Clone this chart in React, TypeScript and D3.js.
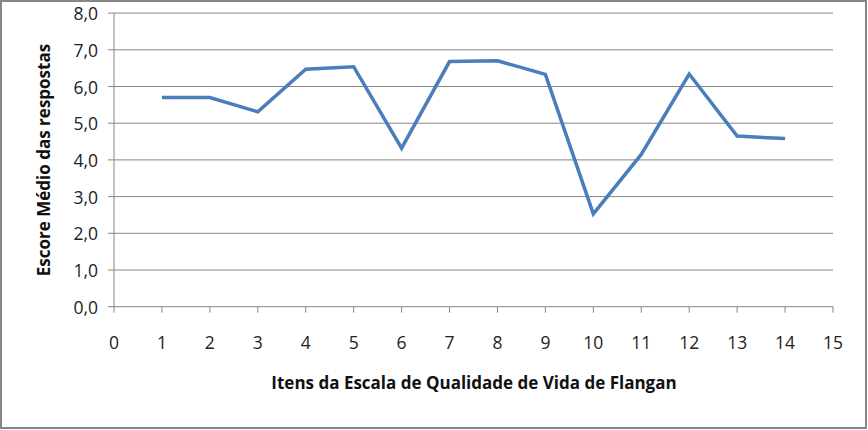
import React from "react";
import * as d3 from "d3";

const items = [1, 2, 3, 4, 5, 6, 7, 8, 9, 10, 11, 12, 13, 14];
const scores = [5.7, 5.7, 5.31, 6.47, 6.54, 4.32, 6.68, 6.7, 6.33, 2.53, 4.15, 6.34, 4.65, 4.58];
const xTicks = [0, 1, 2, 3, 4, 5, 6, 7, 8, 9, 10, 11, 12, 13, 14, 15];
const yTicks = [0, 1, 2, 3, 4, 5, 6, 7, 8];
const xTitle = "Itens da Escala de Qualidade de Vida de Flangan";
const yTitle = "Escore Médio das respostas";

const W = 868;
const H = 430;
const FONT = "Open Sans, Noto Sans, sans-serif";

export default function App() {
  const x = d3.scaleLinear().domain([0, 15]).range([114, 833]);
  const y = d3.scaleLinear().domain([0, 8]).range([306.7, 13.1]);
  const line = d3
    .line<number>()
    .x((_, i) => x(items[i]))
    .y((d) => y(d));
  const fmt = (v: number) => v.toFixed(1).replace(".", ",");
  const grid = "#868686";
  return (
    <svg
      width={W}
      height={H}
      style={{ position: "absolute", left: 0, top: 0, background: "#fff" }}
    >
      <rect x={1} y={1} width={W - 3} height={H - 3} fill="#fff" stroke="#868686" strokeWidth={2} />
      {yTicks.map((t) => (
        <g key={"y" + t}>
          <line x1={108} x2={x(15)} y1={y(t)} y2={y(t)} stroke={grid} strokeWidth={1} />
          <text
            x={98}
            y={y(t)}
            textAnchor="end"
            dominantBaseline="central"
            fontFamily={FONT}
            fontSize={17.5}
            fill="#222"
          >
            {fmt(t)}
          </text>
        </g>
      ))}
      <line x1={x(0)} x2={x(0)} y1={y(8)} y2={y(0)} stroke={grid} strokeWidth={1} />
      {xTicks.map((t) => (
        <g key={"x" + t}>
          <line x1={x(t)} x2={x(t)} y1={y(0)} y2={y(0) + 6} stroke={grid} strokeWidth={1} />
          <text
            x={x(t)}
            y={342}
            textAnchor="middle"
            dominantBaseline="central"
            fontFamily={FONT}
            fontSize={17.5}
            fill="#222"
          >
            {t}
          </text>
        </g>
      ))}
      <path
        d={line(scores) || ""}
        fill="none"
        stroke="#4a7ebb"
        strokeWidth={3.5}
        strokeLinejoin="miter"
        strokeLinecap="butt"
      />
      <text
        x={474}
        y={382}
        textAnchor="middle"
        dominantBaseline="central"
        fontFamily={FONT}
        fontSize={17}
        fontWeight="bold"
        fill="#111"
      >
        {xTitle}
      </text>
      <text
        transform={`translate(43, 160) rotate(-90)`}
        textAnchor="middle"
        dominantBaseline="central"
        fontFamily={FONT}
        fontSize={17}
        fontWeight="bold"
        fill="#111"
      >
        {yTitle}
      </text>
    </svg>
  );
}
